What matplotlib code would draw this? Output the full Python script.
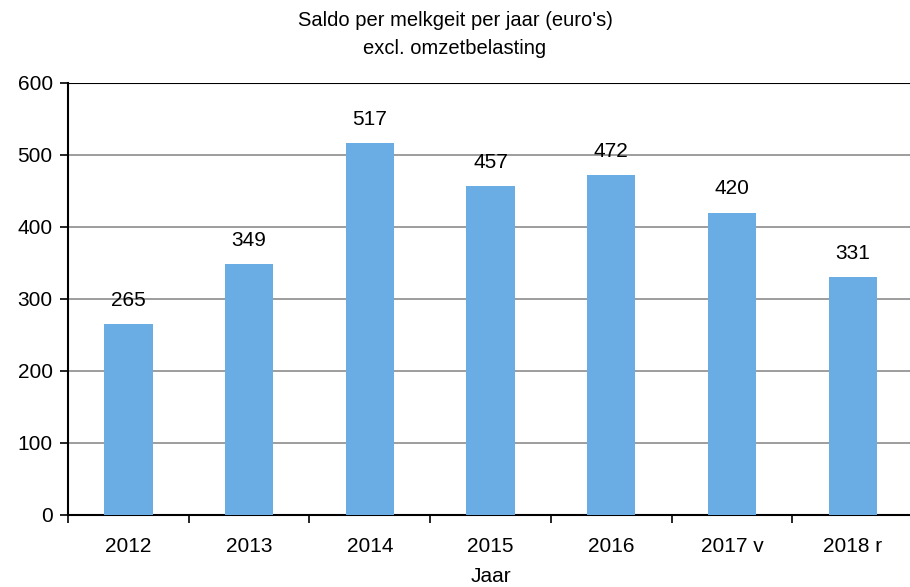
import matplotlib.pyplot as plt

plt.rcParams['font.family'] = ['Liberation Sans', 'DejaVu Sans']

years = ['2012', '2013', '2014', '2015', '2016', '2017 v', '2018 r']
saldo = [265, 349, 517, 457, 472, 420, 331]

fig = plt.figure(figsize=(9.10, 5.87), dpi=100)
ax = fig.add_axes([68 / 910, 72 / 587, 845 / 910, 432 / 587])

x = range(len(years))
ax.bar(x, saldo, width=0.40, color='#6aace4', zorder=3)

for xi, v in zip(x, saldo):
    ax.annotate(str(v), (xi, v), xytext=(0, 17), textcoords='offset points',
                ha='center', va='center', fontsize=15)

ax.set_xlim(-0.5, len(years) - 0.5)
ax.set_ylim(0, 600)
ax.set_yticks(range(0, 601, 100))
ax.yaxis.grid(True, color='#8c8c8c', linewidth=1.2, zorder=0)
ax.axhline(600, color='black', linewidth=1.5, zorder=4)

ax.set_xticks(x)
ax.set_xticklabels(years, fontsize=15)
ax.set_xticks([i - 0.5 for i in range(len(years) + 1)], minor=True)
ax.tick_params(axis='x', which='major', length=0, pad=16)
ax.tick_params(axis='x', which='minor', length=6, width=1.2, direction='out')
ax.tick_params(axis='y', length=6, width=1.2, labelsize=15, pad=5)

for s in ['top', 'right']:
    ax.spines[s].set_visible(False)
ax.spines['left'].set_linewidth(1.5)
ax.spines['bottom'].set_linewidth(1.5)

ax.set_xlabel('Jaar', fontsize=15, labelpad=8)
fig.text(0.5, 0.982, "Saldo per melkgeit per jaar (euro's)\nexcl. omzetbelasting",
         ha='center', va='top', fontsize=14.5, linespacing=1.6)

fig.savefig('out.png', dpi=100)
